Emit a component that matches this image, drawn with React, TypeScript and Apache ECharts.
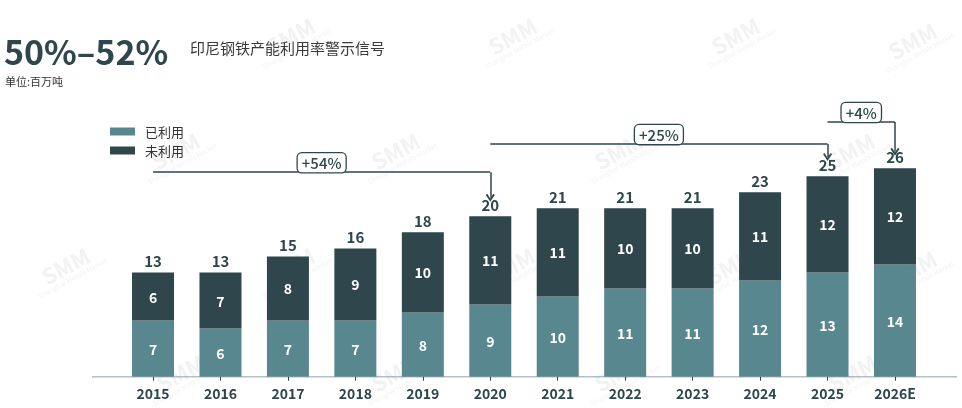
import React, { useEffect, useRef } from 'react'
import * as echarts from 'echarts'

// 数据（百万吨）
const years = ['2015', '2016', '2017', '2018', '2019', '2020', '2021', '2022', '2023', '2024', '2025', '2026E']
const usedCapacity = [7, 6, 7, 7, 8, 9, 10, 11, 11, 12, 13, 14]
const unusedCapacity = [6, 7, 8, 9, 10, 11, 11, 10, 10, 11, 12, 12]
const growthText = ['+54%', '+25%', '+4%']
const growthFrom = ['2015', '2020', '2025']
const growthTo = ['2020', '2025', '2026E']

// 注释线的高度（y 轴数值）
const bracketLevel = [25.5, 29.0, 31.75]
const arrowTip = [22.3, 27.4, 28.05]

const FONT = '"Noto Sans CJK SC", "Noto Sans", sans-serif'
const LIGHT = '#598790'
const DARK = '#2e464c'

const watermarkSpots = [
  [290, 35], [512, 35], [735, 35], [912, 40],
  [175, 150], [395, 150], [618, 150], [850, 150],
  [65, 265], [290, 265], [510, 265], [730, 265], [912, 268],
  [180, 372], [395, 372], [618, 372], [852, 372],
]

export default function App() {
  const ref = useRef<HTMLDivElement | null>(null)

  useEffect(() => {
    if (!ref.current) return
    const chart = echarts.init(ref.current, null, { renderer: 'svg' })

    const chevron = 'path://M5,0L10,7L8.4,8.2L5,3.4L1.6,8.2L0,7Z'
    const markData: any[] = []
    growthText.forEach((txt, i) => {
      markData.push([
        {
          coord: [growthFrom[i], bracketLevel[i]], symbol: 'none',
          label: {
            show: true, position: 'middle', distance: 0, formatter: txt,
            color: DARK, fontSize: 15, fontWeight: 500, fontFamily: FONT,
            backgroundColor: '#fff', borderColor: DARK, borderWidth: 1.3, borderRadius: 4,
            padding: [2, 4, 2, 4],
          },
        },
        { coord: [growthTo[i], bracketLevel[i]], symbol: 'none' },
      ])
      markData.push([
        { coord: [growthTo[i], bracketLevel[i]], symbol: 'none', label: { show: false } },
        { coord: [growthTo[i], arrowTip[i]], symbol: chevron, symbolSize: [9, 8] },
      ])
    })

    const watermarks = watermarkSpots.map(([x, y]) => ({
      type: 'group', x, y, rotation: 0.5, silent: true, z: 100,
      children: [
        { type: 'text', style: { text: 'SMM', x: 0, y: 0, align: 'center', verticalAlign: 'middle', fontSize: 22, fontWeight: 'bold', fontFamily: FONT, fill: 'rgba(150,150,150,0.12)' } },
        { type: 'text', style: { text: 'Shanghai Metals Market', x: 0, y: 15, align: 'center', verticalAlign: 'middle', fontSize: 7, fontFamily: FONT, fill: 'rgba(150,150,150,0.12)' } },
      ],
    }))

    chart.setOption({
      animation: false,
      textStyle: { fontFamily: FONT },
      grid: { left: 119.3, right: 33.3, top: 96, bottom: 31.3 },
      legend: {
        data: ['已利用', '未利用'],
        orient: 'vertical', left: 105, top: 120,
        itemWidth: 25, itemHeight: 8, itemGap: 6,
        icon: 'rect',
        textStyle: { fontSize: 13, color: '#333', fontFamily: FONT, padding: [0, 0, 0, 5] },
      },
      xAxis: {
        type: 'category',
        data: years,
        axisLine: { show: false },
        axisTick: { show: true, alignWithLabel: true, length: 4, lineStyle: { color: DARK, width: 1 } },
        axisLabel: { fontSize: 14, fontWeight: 'bold', color: DARK, margin: 9, fontFamily: FONT },
      },
      yAxis: { type: 'value', min: 0, max: 35, show: false },
      graphic: [
        { type: 'line', shape: { x1: 92, y1: 376.7, x2: 957, y2: 376.7 }, style: { stroke: '#b3c1c5', lineWidth: 1.5 }, z: 0 },
        { type: 'text', style: { text: '50%–52%', x: 4, y: 50, verticalAlign: 'middle', fontSize: 34, fontWeight: 'bold', fill: DARK, fontFamily: FONT } },
        { type: 'text', style: { text: '印尼钢铁产能利用率警示信号', x: 190, y: 47, verticalAlign: 'middle', fontSize: 15, fill: '#3a3a3a', fontFamily: FONT } },
        { type: 'text', style: { text: '单位:百万吨', x: 5, y: 81, verticalAlign: 'middle', fontSize: 11, fill: '#333', fontFamily: FONT } },
        ...watermarks,
      ],
      series: [
        {
          name: '已利用', type: 'bar', stack: 'cap', barWidth: 42,
          data: usedCapacity,
          itemStyle: { color: LIGHT },
          label: { show: true, position: 'inside', color: '#fff', fontSize: 14, fontWeight: 'bold', fontFamily: FONT },
        },
        {
          name: '未利用', type: 'bar', stack: 'cap', barWidth: 42,
          data: unusedCapacity,
          itemStyle: { color: DARK },
          label: { show: true, position: 'inside', color: '#fff', fontSize: 14, fontWeight: 'bold', fontFamily: FONT },
        },
        {
          name: '合计', type: 'bar', stack: 'cap', barWidth: 42,
          data: years.map(() => 0),
          itemStyle: { color: 'transparent' },
          label: {
            show: true, position: 'top', distance: 4,
            formatter: (p: any) => String(usedCapacity[p.dataIndex] + unusedCapacity[p.dataIndex]),
            color: DARK, fontSize: 15, fontWeight: 'bold', fontFamily: FONT,
          },
          markLine: {
            silent: true,
            symbol: 'none',
            lineStyle: { color: DARK, width: 1.5, type: 'solid' },
            label: { show: false },
            emphasis: { disabled: true },
            data: markData,
          },
        },
      ],
    } as any)

    return () => {
      chart.dispose()
    }
  }, [])

  return <div ref={ref} style={{ position: 'fixed', left: 0, top: 0, width: 962, height: 408 }} />
}
